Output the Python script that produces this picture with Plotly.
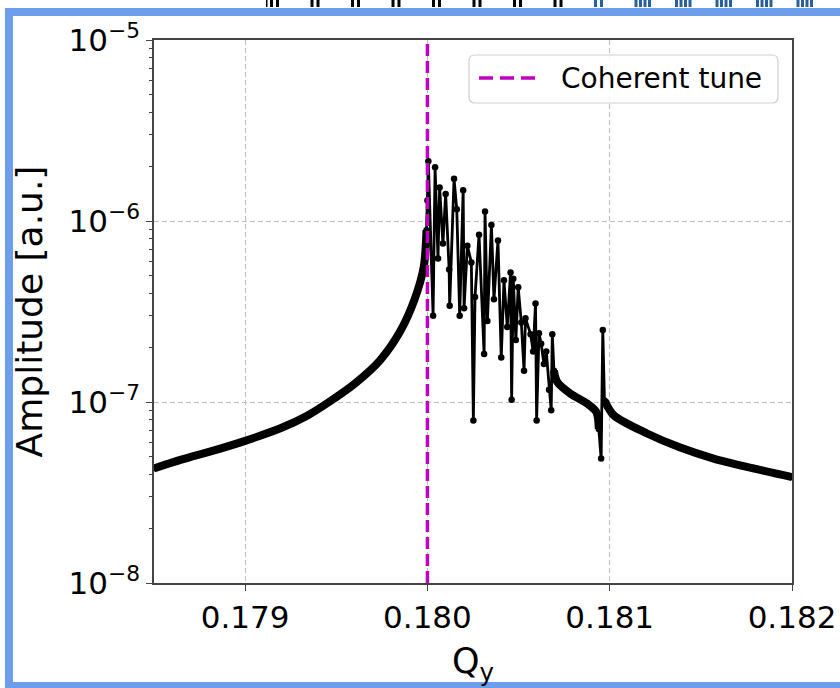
import numpy as np
import plotly.graph_objects as go

# Vertical tune spectrum (FFT amplitude vs. tune)
q_y = [
    # lower wing
    0.17850, 0.17865, 0.17883, 0.17900, 0.17920, 0.17934, 0.17946, 0.17960,
    0.17974, 0.17985, 0.17993, 0.17998, 0.179995,
    # incoherent spread above the coherent tune
    0.180000, 0.180005, 0.180031, 0.180042, 0.180058, 0.180067, 0.180085, 0.180100,
    0.180119, 0.180122, 0.180146, 0.180161, 0.180177, 0.180196, 0.180201, 0.180219,
    0.180241, 0.180252, 0.180261, 0.180283, 0.180311, 0.180316, 0.180329, 0.180351,
    0.180365, 0.180387, 0.180405, 0.180420, 0.180438, 0.180456, 0.180462, 0.180471,
    0.180485, 0.180498, 0.180515, 0.180530, 0.180538, 0.180566, 0.180580, 0.180593,
    0.180599, 0.180612, 0.180624, 0.180639, 0.180652, 0.180667, 0.180679, 0.180685,
    0.180694,
    # upper wing with the side line
    0.180712, 0.180785, 0.180876, 0.180927, 0.180940, 0.180953, 0.180962, 0.180971,
    0.181022, 0.181205, 0.181387, 0.181570, 0.181752, 0.182000,
]
amplitude = [
    4.3e-8, 4.8e-8, 5.4e-8, 6.1e-8, 7.2e-8, 8.4e-8, 1.0e-7, 1.26e-7,
    1.7e-7, 2.45e-7, 3.7e-7, 5.6e-7, 8.9e-7,
    1.30e-6, 2.14e-6, 3.0e-7, 1.98e-6, 6.2e-7, 1.53e-6, 7.5e-7, 1.41e-6,
    5.4e-7, 3.4e-7, 1.71e-6, 1.16e-6, 3.0e-7, 1.48e-6, 3.3e-7, 7.3e-7,
    5.9e-7, 7.9e-8, 3.8e-7, 8.4e-7, 1.84e-7, 1.13e-6, 2.8e-7, 9.5e-7,
    3.7e-7, 7.8e-7, 1.76e-7, 4.7e-7, 2.6e-7, 5.2e-7, 1.03e-7, 4.8e-7,
    2.2e-7, 4.3e-7, 2.75e-7, 1.49e-7, 2.9e-7, 2.37e-7, 1.9e-7, 3.5e-7,
    7.9e-8, 2.4e-7, 2.1e-7, 1.62e-7, 1.9e-7, 1.17e-7, 9.0e-8, 2.37e-7,
    1.49e-7,
    1.29e-7, 1.11e-7, 9.8e-8, 8.8e-8, 7.1e-8, 4.87e-8, 2.5e-7, 1.02e-7,
    8.45e-8, 6.7e-8, 5.6e-8, 4.87e-8, 4.38e-8, 3.85e-8,
]
coherent_tune = 0.180
legend_label = "Coherent tune"

x_ticks = [0.179, 0.180, 0.181, 0.182]
x_tick_labels = ["0.179", "0.180", "0.181", "0.182"]
y_ticks = [1e-8, 1e-7, 1e-6, 1e-5]
y_tick_labels = ["10<sup>−8</sup>", "10<sup>−7</sup>", "10<sup>−6</sup>", "10<sup>−5</sup>"]

q = np.array(q_y)
a = np.array(amplitude)

FONT = "DejaVu Sans"
TUNE_COLOR = "#bf00bf"
W, H = 840, 688
L, R, T, B = 154, 48, 40, 105
PW, PH = W - L - R, H - T - B


def px(x):
    return (x - L) / PW


def py(y):
    return (H - B - y) / PH


fig = go.Figure()

# full spectrum: line with point markers
fig.add_trace(go.Scatter(
    x=q, y=a, mode="lines+markers",
    line=dict(color="black", width=2.8),
    marker=dict(color="black", size=6.5),
    showlegend=False, hoverinfo="skip",
))

# densely sampled wings appear as a solid band
wing_masks = [
    q <= 0.179995,
    (q >= 0.180694) & (q <= 0.180940),
    q >= 0.180971,
]
for m in wing_masks:
    fig.add_trace(go.Scatter(
        x=q[m], y=a[m], mode="lines",
        line=dict(color="black", width=8, shape="spline", smoothing=0.8),
        showlegend=False, hoverinfo="skip",
    ))

# coherent tune marker
fig.add_trace(go.Scatter(
    x=[coherent_tune, coherent_tune], y=[1e-8, 1e-5], mode="lines",
    line=dict(color=TUNE_COLOR, width=3.5, dash="12px,5px"),
    showlegend=False, hoverinfo="skip",
))

axis_common = dict(
    showline=True, linecolor="#444444", linewidth=1.5, mirror=True,
    ticks="outside", ticklen=6, tickwidth=1.2, tickcolor="#444444",
    showgrid=True, gridcolor="#bdbdbd", gridwidth=1, griddash="5px,3px",
    zeroline=False, automargin=False,
    tickfont=dict(family=FONT, size=31, color="black"),
)

fig.update_xaxes(
    range=[0.1785, 0.182], tickvals=x_ticks, ticktext=x_tick_labels,
    title=dict(text="Q<sub>y</sub>", font=dict(family=FONT, size=35, color="black")),
    **axis_common,
)
fig.update_yaxes(
    type="log", range=[-8, -5], tickvals=y_ticks, ticktext=y_tick_labels,
    title=dict(text="Amplitude [a.u.]", font=dict(family=FONT, size=36, color="black")),
    minor=dict(ticks="outside", ticklen=3.5, tickcolor="#444444", dtick="D1", showgrid=False),
    **axis_common,
)

shapes = []
# legend box with dashed line sample
lx0, lx1, ly0, ly1, rad = 469, 778, 55, 103, 6
shapes.append(dict(
    type="path", xref="paper", yref="paper", layer="above",
    path=(f"M {px(lx0 + rad)},{py(ly0)} L {px(lx1 - rad)},{py(ly0)} "
          f"Q {px(lx1)},{py(ly0)} {px(lx1)},{py(ly0 + rad)} "
          f"L {px(lx1)},{py(ly1 - rad)} Q {px(lx1)},{py(ly1)} {px(lx1 - rad)},{py(ly1)} "
          f"L {px(lx0 + rad)},{py(ly1)} Q {px(lx0)},{py(ly1)} {px(lx0)},{py(ly1 - rad)} "
          f"L {px(lx0)},{py(ly0 + rad)} Q {px(lx0)},{py(ly0)} {px(lx0 + rad)},{py(ly0)} Z"),
    line=dict(color="#d0d0d0", width=1.2), fillcolor="rgba(255,255,255,0.85)",
))
shapes.append(dict(
    type="line", xref="paper", yref="paper", layer="above",
    x0=px(479), x1=px(535), y0=py(78), y1=py(78),
    line=dict(color=TUNE_COLOR, width=3.5, dash="14px,7px"),
))

# outer frame: left, top and bottom edges (the image continues to the right)
FRAME = "#6d9eeb"
for (fx0, fy0, fx1, fy1) in [(5, 8, 840, 16), (5, 8, 13, 688), (5, 682, 840, 688)]:
    shapes.append(dict(
        type="rect", xref="paper", yref="paper", layer="above",
        x0=px(fx0), x1=px(fx1), y0=py(fy1), y1=py(fy0),
        line=dict(width=0), fillcolor=FRAME,
    ))
# strip of the neighbouring image above the frame
for i in range(14):
    x0 = 270 + i * 40.5
    shade = "black" if i < 8 else "#2a5f9e"
    n_bars = 2 if i < 9 else 4
    step = 6 if i < 9 else 4.5
    for k in range(n_bars):
        bx = x0 + k * step
        shapes.append(dict(
            type="rect", xref="paper", yref="paper", layer="above",
            x0=px(bx), x1=px(bx + 3), y0=py(7), y1=py(0),
            line=dict(width=0), fillcolor=shade,
        ))
shapes.append(dict(
    type="rect", xref="paper", yref="paper", layer="above",
    x0=px(266), x1=px(267.5), y0=py(7), y1=py(0),
    line=dict(width=0), fillcolor="black",
))

fig.update_layout(
    width=W, height=H,
    margin=dict(l=L, r=R, t=T, b=B),
    paper_bgcolor="white", plot_bgcolor="white",
    font=dict(family=FONT, color="black"),
    shapes=shapes,
    showlegend=False,
    annotations=[dict(
        text=legend_label, xref="paper", yref="paper",
        x=px(559), y=py(78), xanchor="left", yanchor="middle",
        showarrow=False, font=dict(family=FONT, size=28, color="black"),
    )],
)

fig.write_html("out.html")
